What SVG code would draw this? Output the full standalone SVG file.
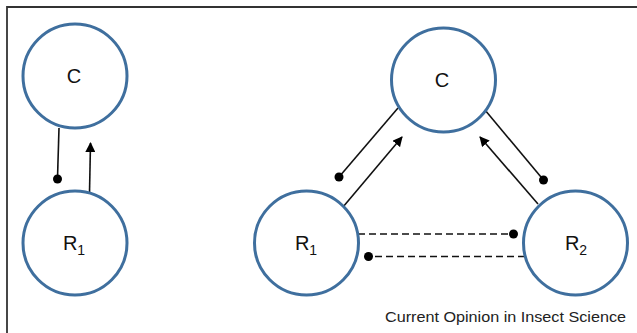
<svg xmlns="http://www.w3.org/2000/svg" width="637" height="333" viewBox="0 0 637 333">
  <style>
    .node circle { fill: #ffffff; stroke: #3f6f9e; stroke-width: 3; }
    .label { font-family: "Liberation Sans", Arial, sans-serif; font-size: 20px; fill: #111111; text-anchor: middle; }
    .sub { font-size: 14px; }
    .edge { stroke: #111111; stroke-width: 1.6; fill: none; }
    .dash { stroke-dasharray: 7 4; }
    .dot { fill: #000000; }
    .caption { font-family: "Liberation Sans", Arial, sans-serif; font-size: 14.5px; fill: #222222; }
  </style>
  <defs>
    <marker id="arrow" viewBox="0 0 10 10" refX="9" refY="5" markerWidth="10" markerHeight="10" markerUnits="userSpaceOnUse" orient="auto">
      <path d="M0,0 L10,5 L0,10 Z" fill="#000000"/>
    </marker>
  </defs>
  <rect width="637" height="333" fill="#ffffff"/>
  <!-- frame: top and left edges only -->
  <path d="M7,333 V7 H637" fill="none" stroke="#333333" stroke-width="1.8"/>

  <g id="connectors">
    <!-- left pair -->
    <line class="edge" x1="59" y1="128" x2="57.5" y2="178"/>
    <circle class="dot" cx="57.5" cy="179" r="4.5"/>
    <line class="edge" x1="89.5" y1="193" x2="90.5" y2="143" marker-end="url(#arrow)"/>
    <!-- C / R1 -->
    <line class="edge" x1="398" y1="108" x2="339" y2="177"/>
    <circle class="dot" cx="339" cy="177" r="4.5"/>
    <line class="edge" x1="343" y1="207" x2="402" y2="137" marker-end="url(#arrow)"/>
    <!-- C / R2 -->
    <line class="edge" x1="538" y1="204" x2="480" y2="137" marker-end="url(#arrow)"/>
    <line class="edge" x1="485" y1="110" x2="543.5" y2="180"/>
    <circle class="dot" cx="543.5" cy="180" r="4.5"/>
    <!-- R1 / R2 -->
    <line class="edge dash" x1="358" y1="234" x2="513" y2="234"/>
    <circle class="dot" cx="513.5" cy="234" r="4.5"/>
    <line class="edge dash" x1="525" y1="256.5" x2="368" y2="256.5"/>
    <circle class="dot" cx="368.5" cy="256.5" r="4.5"/>
  </g>

  <g id="node-C-left" class="node">
    <circle cx="75" cy="76" r="52"/>
    <text class="label" x="74" y="83">C</text>
  </g>
  <g id="node-R1-left" class="node">
    <circle cx="75" cy="243" r="52"/>
    <text class="label" x="74" y="250">R<tspan class="sub" dy="5">1</tspan></text>
  </g>
  <g id="node-C-right" class="node">
    <circle cx="443.5" cy="80" r="52"/>
    <text class="label" x="442" y="87">C</text>
  </g>
  <g id="node-R1-right" class="node">
    <circle cx="306.5" cy="243" r="52"/>
    <text class="label" x="306" y="250">R<tspan class="sub" dy="5">1</tspan></text>
  </g>
  <g id="node-R2" class="node">
    <circle cx="575.5" cy="243" r="52"/>
    <text class="label" x="576" y="250">R<tspan class="sub" dy="5">2</tspan></text>
  </g>

  <text class="caption" x="385" y="322" textLength="241" lengthAdjust="spacingAndGlyphs">Current Opinion in Insect Science</text>
</svg>
